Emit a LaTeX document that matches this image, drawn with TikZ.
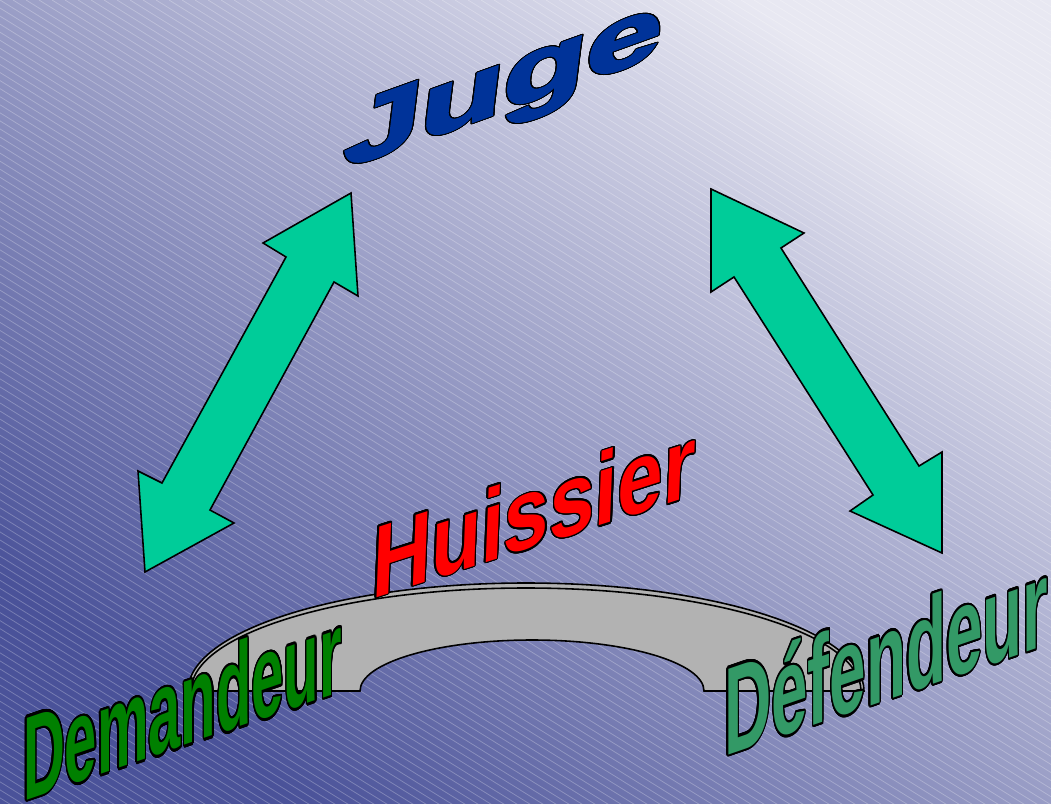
\documentclass[tikz,border=0pt]{standalone}
\usepackage{fontspec}
\setmainfont{Liberation Sans}
\usepackage{xcolor}
\usepackage[copies]{contour}
\contourlength{0.7pt}
\contournumber{24}
\definecolor{bgdark}{HTML}{4A5299}
\definecolor{bgmid}{HTML}{A4A7CD}
\definecolor{bglight}{HTML}{E8E8F2}
\definecolor{jugeblue}{HTML}{003399}
\definecolor{huissierred}{HTML}{FF0000}
\definecolor{demgreen}{HTML}{008000}
\definecolor{defgreen}{HTML}{339966}
\definecolor{arrowgreen}{HTML}{00CC99}
\definecolor{archgray}{HTML}{B2B2B2}
\tikzset{
    hatch-line/.style = {white, opacity=0.25, line width=0.45pt},
    arrow-block/.style = {draw=black, fill=arrowgreen, line width=0.9pt, line join=miter},
    arch-ring/.style = {draw=black, fill=archgray, line width=0.9pt},
    word-art/.style = {anchor=base west, inner sep=0pt, outer sep=0pt},
}

\begin{document}
\begin{tikzpicture}[x=0.02cm, y=-0.02cm]
\useasboundingbox (0,0) rectangle (1051,804);
\shade[bottom color=bgdark, middle color=bgmid, top color=bglight, shading angle=-37] (0,0) rectangle (1051,804);
\begin{scope}
\clip (0,0) rectangle (1051,804);
\foreach \k in {-100,...,81}
    \draw[hatch-line] (\k*13,0) -- ++(1300,806);
\end{scope}

% the two double arrows
\draw[arrow-block] (351,193) -- (358,296) -- (334,282) -- (210,510) -- (234,523) -- (145,572)
    -- (138,471) -- (162,483) -- (286,257) -- (263,243) -- cycle;
\draw[arrow-block] (711,189) -- (804,233) -- (781,248) -- (919,466) -- (942,452) -- (942,553)
    -- (850,511) -- (873,495) -- (734,277) -- (711,292) -- cycle;

% arch
\draw[arch-ring] (188,691) arc[start angle=180, end angle=360, x radius=338, y radius=108]
    -- (704,691) arc[start angle=0, end angle=-180, x radius=172, y radius=51] -- cycle;
\draw[line width=0.9pt] (191,691) arc[start angle=180, end angle=360, x radius=335, y radius=103];

\node[word-art, text=jugeblue, font=\bfseries\addfontfeature{FakeBold=2.5}\fontsize{75}{75}\selectfont,
    yslant=0.36, xslant=0.13, xscale=1.03, yscale=0.67] (juge) at (342,169) {\contour{black}{Juge}};
\node[word-art, text=huissierred, font=\bfseries\fontsize{46.6}{47}\selectfont,
    yslant=0.32, xslant=0.04, yscale=1.24] (huissier) at (371,599) {\contour{black}{Huissier}};
\node[word-art, text=demgreen, font=\bfseries\fontsize{33}{33}\selectfont,
    yslant=0.343, yscale=2.05] (demandeur) at (23,801) {\contour{black}{Demandeur}};
\node[word-art, text=defgreen, font=\bfseries\fontsize{37.3}{38}\selectfont,
    yslant=0.344, yscale=1.9] (defendeur) at (724,756) {\contour{black}{Défendeur}};
\end{tikzpicture}
\end{document}
